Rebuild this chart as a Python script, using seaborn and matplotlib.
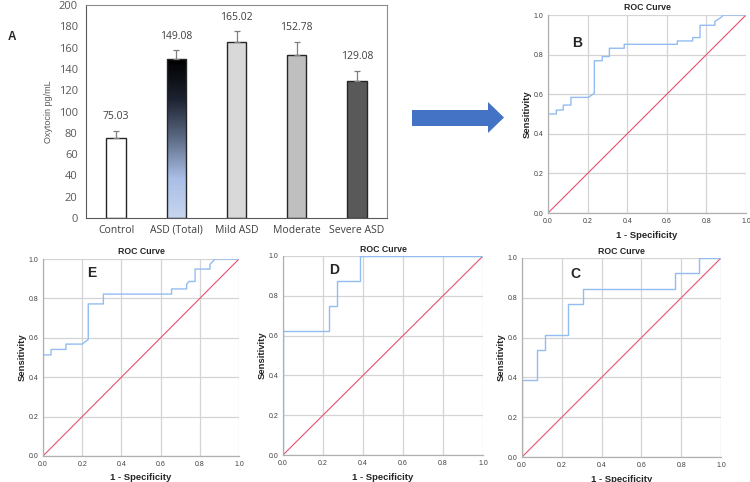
import numpy as np
import pandas as pd
import matplotlib
matplotlib.use("Agg")
import matplotlib.pyplot as plt
import matplotlib.patches as mpatches
from matplotlib.colors import LinearSegmentedColormap
import seaborn as sns

W, H = 750, 482

# panel A data
groups = ["Control", "ASD (Total)", "Mild ASD", "Moderate", "Severe ASD"]
oxytocin = [75.03, 149.08, 165.02, 152.78, 129.08]
oxy_err = [7.0, 8.2, 10.7, 12.9, 9.1]
bar_colors = ["#ffffff", "#8fa6cf", "#d9d9d9", "#bfbfbf", "#595959"]

# ROC curves (1 - specificity, sensitivity)
fpr_b = [0, 0, 0.042, 0.042, 0.077, 0.077, 0.116, 0.116, 0.204, 0.234, 0.234, 0.274, 0.274, 0.31,
         0.31, 0.385, 0.385, 0.653, 0.653, 0.731, 0.731, 0.768, 0.768, 0.843, 0.843, 0.877, 0.885, 1.0]
tpr_b = [0, 0.5, 0.5, 0.52, 0.52, 0.545, 0.545, 0.584, 0.584, 0.605, 0.769, 0.769, 0.79, 0.79,
         0.832, 0.832, 0.852, 0.852, 0.869, 0.869, 0.886, 0.886, 0.948, 0.948, 0.968, 0.99, 1.0, 1.0]
fpr_e = [0, 0, 0.041, 0.041, 0.117, 0.117, 0.2, 0.231, 0.231, 0.308, 0.308, 0.656, 0.656, 0.733,
         0.733, 0.745, 0.776, 0.776, 0.852, 0.852, 0.878, 1.0]
tpr_e = [0, 0.513, 0.513, 0.541, 0.541, 0.568, 0.568, 0.592, 0.772, 0.772, 0.822, 0.822, 0.848, 0.848,
         0.872, 0.886, 0.886, 0.949, 0.949, 0.973, 1.0, 1.0]
fpr_d = [0, 0, 0.23, 0.23, 0.27, 0.27, 0.387, 0.387, 1.0]
tpr_d = [0, 0.625, 0.625, 0.75, 0.75, 0.875, 0.875, 1.0, 1.0]
fpr_c = [0, 0, 0.075, 0.075, 0.114, 0.114, 0.231, 0.231, 0.307, 0.307, 0.77, 0.77, 0.888, 0.888, 1.0]
tpr_c = [0, 0.385, 0.385, 0.54, 0.54, 0.615, 0.615, 0.77, 0.77, 0.846, 0.846, 0.923, 0.923, 1.0, 1.0]
ref_line = [0, 1]


def px_rect(l, t, r, b):
    return [l / W, 1 - b / H, (r - l) / W, (b - t) / H]


sns.set_style("white")
plt.rcParams["font.family"] = ["Liberation Sans", "DejaVu Sans"]

fig = plt.figure(figsize=(W / 100, H / 100), dpi=100)

# ---- panel A: bar chart ----
axA = fig.add_axes(px_rect(86, 5, 387, 218))
df = pd.DataFrame({"group": groups, "oxytocin": oxytocin})
sns.barplot(data=df, x="group", y="oxytocin", hue="group", palette=bar_colors,
            width=0.32, edgecolor="#262626", linewidth=1.0, legend=False, ax=axA)

# gradient fill for ASD (Total)
grad = LinearSegmentedColormap.from_list("asd", ["#c7d5ef", "#a9bee6", "#5d6b86", "#1c2230", "#000000"])
bar = axA.patches[1]
bx0, bx1 = bar.get_x(), bar.get_x() + bar.get_width()
img = axA.imshow(np.linspace(0, 1, 256).reshape(-1, 1), cmap=grad, origin="lower",
                 extent=[bx0, bx1, 0, bar.get_height()], aspect="auto", zorder=bar.get_zorder())
img.set_clip_path(bar)
bar.set_facecolor("none")
bar.set_zorder(bar.get_zorder() + 0.1)

axA.errorbar(range(len(groups)), oxytocin, yerr=[np.zeros(len(groups)), oxy_err], fmt="none",
             ecolor="#7f7f7f", elinewidth=0.9, capsize=2.5, capthick=0.9, zorder=5)
for i, (v, e) in enumerate(zip(oxytocin, oxy_err)):
    axA.text(i, v + e + 13, f"{v:.2f}", ha="center", va="center", fontsize=7.5,
             color="#404040", family=["Open Sans", "DejaVu Sans"])

axA.set_xlim(-0.5, len(groups) - 0.5)
axA.set_ylim(0, 200)
axA.set_yticks(np.arange(0, 201, 20))
axA.set_xlabel("")
axA.set_ylabel("Oxytocin pg/mL", fontsize=6.5, color="#595959", labelpad=4)
axA.tick_params(axis="y", length=0, labelsize=8, labelcolor="#595959", pad=6)
axA.tick_params(axis="x", length=0, labelsize=7.5, labelcolor="#404040", pad=5)
for lab in axA.get_xticklabels() + axA.get_yticklabels():
    lab.set_family(["Open Sans", "DejaVu Sans"])
axA.set_xticks(np.arange(-0.5, len(groups), 1), minor=True)
axA.tick_params(axis="x", which="minor", length=4, width=0.8, color="#595959", direction="out")
for side, sp in axA.spines.items():
    sp.set_visible(True)
    sp.set_color("#8c8c8c" if side in ("top", "right") else "#595959")
    sp.set_linewidth(0.8)
fig.text(8 / W, 1 - 37 / H, "A", fontsize=8.5, fontweight="bold", ha="left", va="center")

# ---- arrow ----
axArrow = fig.add_axes([0, 0, 1, 1], zorder=-1)
axArrow.set_xlim(0, W)
axArrow.set_ylim(H, 0)
axArrow.axis("off")
arrow_shape = np.array([[412, 110], [488, 110], [488, 102], [504, 117.5],
                        [488, 133], [488, 126], [412, 126]])
axArrow.add_patch(mpatches.Polygon(arrow_shape, closed=True, facecolor="#4472c4", edgecolor="none"))

# ---- ROC panels ----
panels = [
    ("B", (548, 15, 746, 213), fpr_b, tpr_b, (0.146, 0.86)),
    ("E", (43, 259, 239, 456), fpr_e, tpr_e, (0.25, 0.93)),
    ("D", (283, 256, 483, 455), fpr_d, tpr_d, (0.255, 0.93)),
    ("C", (522, 258, 721, 457), fpr_c, tpr_c, (0.27, 0.92)),
]
for letter, rect, fpr, tpr, lpos in panels:
    ax = fig.add_axes(px_rect(*rect))
    aw, ah = rect[2] - rect[0], rect[3] - rect[1]
    ax.set_xlim(0, 1)
    ax.set_ylim(0, 1)
    ax.set_xticks(np.arange(0, 1.01, 0.2))
    ax.set_yticks(np.arange(0, 1.01, 0.2))
    ax.set_xticklabels([f"{t:.1f}" for t in np.arange(0, 1.01, 0.2)])
    ax.set_yticklabels([f"{t:.1f}" for t in np.arange(0, 1.01, 0.2)])
    ax.grid(True, color="#d4d4d4", linewidth=0.9)
    ax.set_axisbelow(True)
    for side, sp in ax.spines.items():
        sp.set_visible(side in ("left", "bottom"))
        sp.set_color("#b0b0b0")
        sp.set_linewidth(0.9)
    sns.lineplot(x=ref_line, y=ref_line, color="#e8506e", linewidth=0.8, ax=ax)
    sns.lineplot(x=fpr, y=tpr, sort=False, estimator=None, color="#93bdf0", linewidth=1.0, ax=ax)
    ax.tick_params(axis="both", length=2, width=0.6, color="#909090", labelsize=5,
                   labelcolor="#404040", pad=1.5)
    ax.set_xlabel("1 - Specificity", fontsize=6.8, fontweight="bold", va="center")
    ax.set_ylabel("Sensitivity", fontsize=6.8, fontweight="bold", va="center")
    ax.xaxis.set_label_coords(0.5, -22 / ah)
    ax.yaxis.set_label_coords(-21 / aw, 0.5)
    ax.text(0.5, 1 + 7 / ah, "ROC Curve", transform=ax.transAxes, ha="center", va="center",
            fontsize=6.3, fontweight="bold", color="#262626")
    ax.text(lpos[0], lpos[1], letter, ha="center", va="center", fontsize=10, fontweight="bold")

fig.savefig("out.png", dpi=100)
plt.close(fig)
